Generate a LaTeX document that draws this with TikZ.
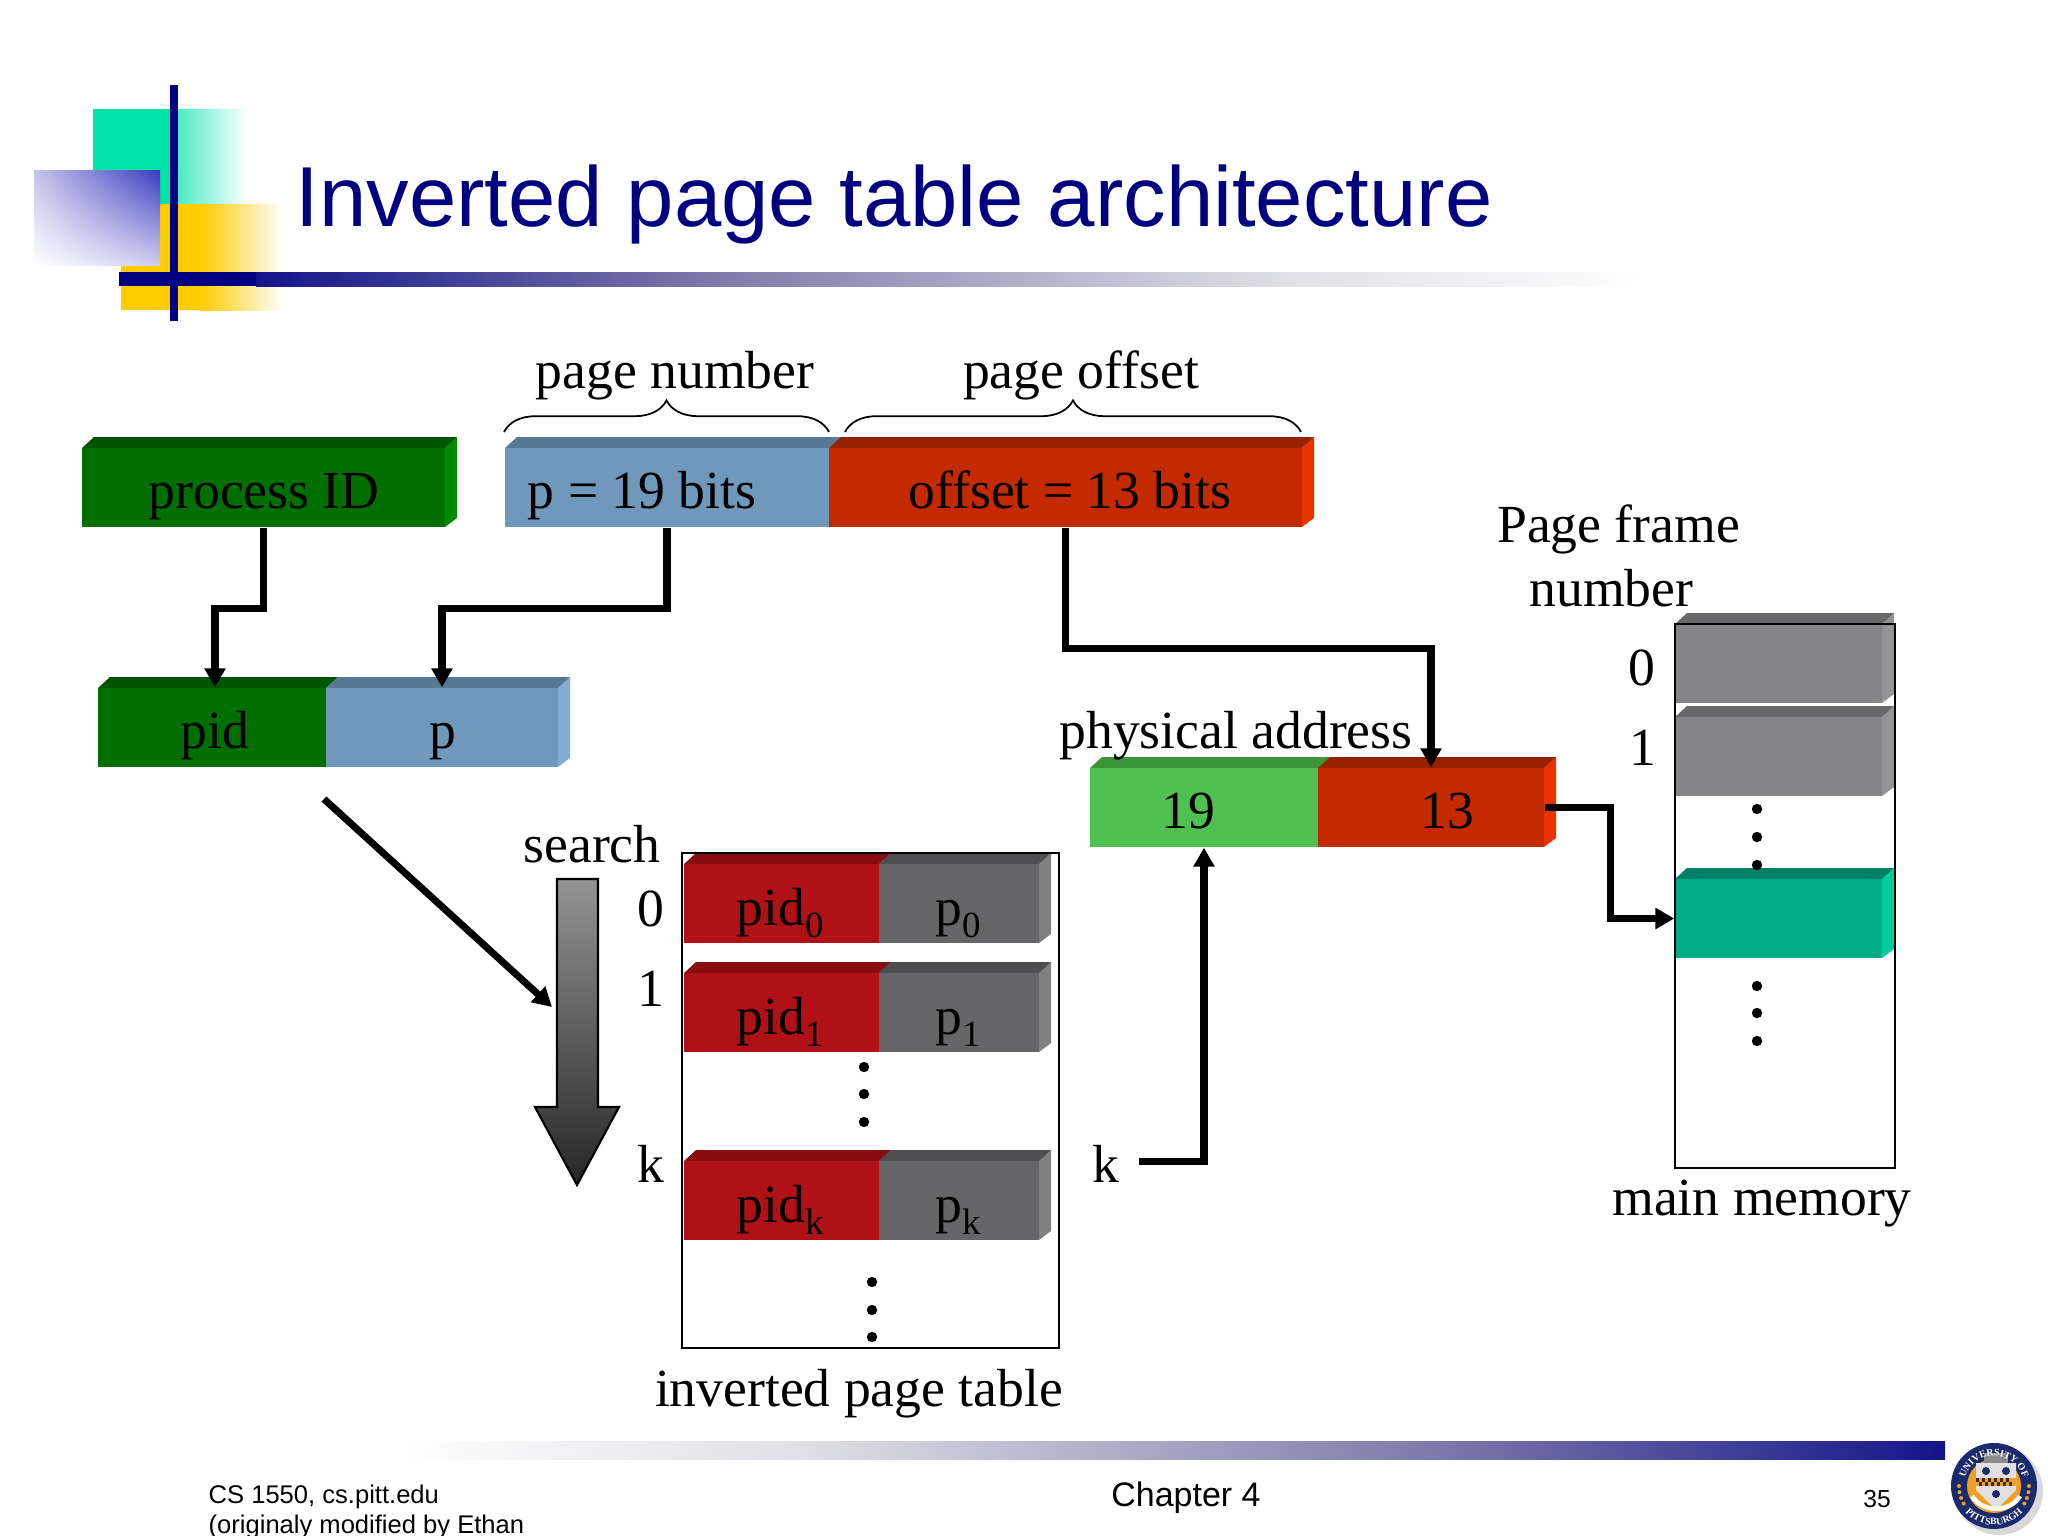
\documentclass[tikz,border=0pt]{standalone}
\usepackage{fontspec}
\setmainfont{Liberation Serif}
\newfontfamily\tsSansFont{Liberation Sans}
\usepackage{xcolor}
\usepackage{tikz}
\usetikzlibrary{arrows.meta,calc,shadings}
\usetikzlibrary{decorations.pathreplacing,decorations.text}

\definecolor{tsNavy}{HTML}{000080}
\definecolor{tsBar}{HTML}{14148A}
\definecolor{tsGreen}{HTML}{006F00}
\definecolor{tsGreenTop}{HTML}{005500}
\definecolor{tsGreenSide}{HTML}{008800}
\definecolor{tsBlue}{HTML}{7098BA}
\definecolor{tsBlueTop}{HTML}{587993}
\definecolor{tsBlueSide}{HTML}{80ACD6}
\definecolor{tsRed}{HTML}{C42A00}
\definecolor{tsRedTop}{HTML}{982200}
\definecolor{tsRedSide}{HTML}{E83300}
\definecolor{tsLime}{HTML}{50C050}
\definecolor{tsLimeTop}{HTML}{3C9638}
\definecolor{tsCrimson}{HTML}{B01116}
\definecolor{tsCrimsonTop}{HTML}{880D10}
\definecolor{tsSlate}{HTML}{666668}
\definecolor{tsSlateTop}{HTML}{4E4E50}
\definecolor{tsSlateSide}{HTML}{808082}
\definecolor{tsGrey}{HTML}{858587}
\definecolor{tsGreyTop}{HTML}{68686A}
\definecolor{tsGreySide}{HTML}{949496}
\definecolor{tsTeal}{HTML}{00AC84}
\definecolor{tsTealTop}{HTML}{008065}
\definecolor{tsTealSide}{HTML}{00CC9C}
\definecolor{tsMint}{HTML}{00E3A8}
\definecolor{tsYellow}{HTML}{FFCC00}
\definecolor{tsGold}{HTML}{F0A020}
\definecolor{tsSealBlue}{HTML}{1A2A6C}
\definecolor{tsViolet}{HTML}{3A3AC0}
\definecolor{tsFadeA}{HTML}{7A78A8}
\definecolor{tsFadeB}{HTML}{B0AEC8}
\definecolor{tsFadeC}{HTML}{E0E0E6}

\pgfdeclarehorizontalshading{tsFade}{100bp}{color(0bp)=(tsBar); color(25bp)=(tsBar); color(41bp)=(tsFadeA); color(52bp)=(tsFadeB); color(62bp)=(tsFadeC); color(75bp)=(white); color(100bp)=(white)}

\tikzstyle{tsLabel} = [
    text=black,
    font=\fontsize{15.25}{18.2}\selectfont,
    inner sep=0pt,
    anchor=base
]
\tikzstyle{tsFace} = [
    rectangle,
    inner sep=0pt,
    draw=none
]
\tikzstyle{tsFoot} = [
    text=black,
    inner sep=0pt,
    anchor=base west
]
\tikzstyle{tsArrow} = [
    line width=2pt,
    -{Triangle[length=5.4pt,width=5.8pt]}
]
\tikzstyle{tsBrace} = [
    line width=0.5pt,
    decorate,
    decoration={brace,amplitude=9pt,aspect=0.5}
]
\tikzstyle{tsOutline} = [
    draw=black,
    line width=0.6pt
]

% name, left, top, right of the front face, then the three colours
\newcommand{\tsBlock}[7]{%
    \fill[#7] (#4,{#3+11}) -- ({#4+12},#3) -- ({#4+12},{#3+81}) -- (#4,{#3+90}) -- cycle;
    \fill[#6] (#2,{#3+11}) -- ({#2+12},#3) -- ({#4+12},#3) -- (#4,{#3+11}) -- cycle;
    \node[tsFace, fill=#5, minimum width={(#4-#2)*0.01cm}, minimum height=0.79cm] (#1) at ({(#2+#4)/2},{#3+50.5}) {};
}
\newcommand{\tsSub}[1]{\raisebox{-0.24em}{\fontsize{10.5}{10.5}\selectfont #1}}

\begin{document}
\begin{tikzpicture}[x=0.01cm,y=-0.01cm]

    \useasboundingbox (0,0) rectangle (2048,1536);

    % logo squares
    \fill[tsMint] (93,109) rectangle (178,204);
    \shade[left color=tsMint!70, right color=white] (178,109) rectangle (247,204);
    \fill[tsYellow] (121,204) rectangle (200,310);
    \shade[left color=tsYellow, right color=white] (200,204) rectangle (283,310);
    \shade[upper right=tsViolet, upper left=tsViolet!30, lower right=tsViolet!25, lower left=white] (34,170) rectangle (160,265);
    \fill[tsNavy] (170,85) rectangle (178,321);
    \fill[tsNavy] (119,272) rectangle (256,286);
    \shade[shading=tsFade] (256,272) rectangle (1650,286);

    \node[inner sep=0pt, anchor=base west, text=tsNavy, font=\tsSansFont\fontsize{24.2}{28}\selectfont] (title) at (295,226) {Inverted page table architecture};

    % footer
    \shade[shading=tsFade, shading angle=180] (392,1441) rectangle (1945,1459);
    \node[tsFoot, font=\tsSansFont\fontsize{7.27}{8.5}\selectfont] (footA) at (208,1503) {CS 1550, cs.pitt.edu};
    \node[tsFoot, font=\tsSansFont\fontsize{7.27}{8.5}\selectfont] (footB) at (208,1533) {(originaly modified by Ethan};
    \node[inner sep=0pt, anchor=base, font=\tsSansFont\fontsize{9.66}{11}\selectfont] (chapter) at (1186,1506) {Chapter 4};
    \node[inner sep=0pt, anchor=base, font=\tsSansFont\fontsize{7}{8}\selectfont] (slideNo) at (1877,1507) {35};

    % seal
    \coordinate (seal) at (1994,1486);
    \fill[black!15] (1999,1491) circle[radius=44];
    \fill[tsSealBlue] (seal) circle[radius=43];
    \fill[tsGold] (seal) circle[radius=27];
    \foreach \a in {180,190,200,210,-30,-20,-10,0}
        \fill[tsGold] ($(seal)+(\a:0.35cm)$) circle[radius=2];
    \fill[black!12] (1976,1463) -- (2016,1463) -- (2016,1490) -- (1996,1510) -- (1976,1490) -- cycle;
    \fill[black!45] (1984,1453) rectangle (2008,1463);
    \fill[tsGold] (1976,1478) rectangle (2016,1486);
    \foreach \x in {1976,1982,...,2010} {
        \fill[black!75!tsGold] (\x,1478) rectangle ({\x+3},1482);
        \fill[black!75!tsGold] ({\x+3},1482) rectangle ({\x+6},1486);
    }
    \foreach \x/\y in {1986/1471,2006/1471,1996/1494}
        \fill[tsSealBlue] (\x,\y) circle[radius=4];
    \draw[white, line width=1.3pt] (1972,1496) .. controls (1982,1513) and (2010,1513) .. (2020,1496);
    \path[decorate, decoration={text along path, text align=center, text={|\color{white}\fontsize{2.8}{2.8}\bfseries\selectfont|UNIVERSITY OF}}]
        ($(seal)+(165:0.3cm)$) arc[start angle=165, end angle=15, radius=0.3cm];
    \path[decorate, decoration={text along path, text align=center, text={|\color{white}\fontsize{2.8}{2.8}\bfseries\selectfont|PITTSBURGH}}]
        ($(seal)+(215:0.39cm)$) arc[start angle=215, end angle=325, radius=0.39cm];

    % virtual address
    \tsBlock{nProcess}{82}{437}{445}{tsGreen}{tsGreenTop}{tsGreenSide}
    \tsBlock{nPageBits}{505}{437}{829}{tsBlue}{tsBlueTop}{tsBlueSide}
    \tsBlock{nOffsetBits}{829}{437}{1302}{tsRed}{tsRedTop}{tsRedSide}
    \tsBlock{nPid}{98}{677}{326}{tsGreen}{tsGreenTop}{tsGreenSide}
    \tsBlock{nP}{326}{677}{558}{tsBlue}{tsBlueTop}{tsBlueSide}
    \tsBlock{nNineteen}{1090}{757}{1318}{tsLime}{tsLimeTop}{tsLime}
    \tsBlock{nThirteen}{1318}{757}{1544}{tsRed}{tsRedTop}{tsRedSide}

    % inverted page table
    \foreach \i/\y in {0/853,1/962,k/1150} {
        \tsBlock{nPidRow\i}{684}{\y}{879}{tsCrimson}{tsCrimsonTop}{tsCrimson}
        \tsBlock{nPRow\i}{879}{\y}{1039}{tsSlate}{tsSlateTop}{tsSlateSide}
        \node[tsLabel] (lPidRow\i) at (780,{\y+72}) {pid\tsSub{\i}};
        \node[tsLabel] (lPRow\i) at (958,{\y+72}) {p\tsSub{\i}};
    }
    \node[tsOutline, tsFace, draw=black, minimum width=3.77cm, minimum height=4.95cm] (nTable) at (870.5,1100.5) {};

    % main memory
    \tsBlock{nFrameA}{1675}{613}{1882}{tsGrey}{tsGreyTop}{tsGreySide}
    \tsBlock{nFrameB}{1675}{706}{1882}{tsGrey}{tsGreyTop}{tsGreySide}
    \tsBlock{nTeal}{1675}{868}{1882}{tsTeal}{tsTealTop}{tsTealSide}
    \node[tsOutline, tsFace, draw=black, minimum width=2.2cm, minimum height=5.44cm] (nMemory) at (1785,896) {};

    \foreach \x/\y in {864/1067,864/1094,864/1122,872/1282,872/1310,872/1337,1757/809,1757/837,1757/865,1757/986,1757/1013,1757/1041}
        \fill[black] (\x,\y) circle[radius=5.2];

    % braces
    \coordinate (braceA) at (504,432);
    \coordinate (braceB) at (829,432);
    \coordinate (braceC) at (845,432);
    \coordinate (braceD) at (1301,432);
    \draw[tsBrace] (braceA) -- (braceB);
    \draw[tsBrace] (braceC) -- (braceD);

    % search arrow
    \shade[top color=black!42, bottom color=black!85, draw=black, line width=0.6pt]
        (557,879) -- (598,879) -- (598,1107) -- (619,1107) -- (577,1185) -- (535,1107) -- (557,1107) -- cycle;

    % labels
    \node[tsLabel] (lPageNumber) at (675,388) {page number};
    \node[tsLabel] (lPageOffset) at (1081,388) {page offset};
    \node[tsLabel] (lProcess) at (264,508) {process ID};
    \node[tsLabel] (lPageBits) at (642,508) {p = 19 bits};
    \node[tsLabel] (lOffsetBits) at (1070,508) {offset = 13 bits};
    \node[tsLabel] (lPid) at (215,748) {pid};
    \node[tsLabel] (lP) at (443,748) {p};
    \node[tsLabel] (lPhysical) at (1236,748) {physical address};
    \node[tsLabel] (lNineteen) at (1188,828) {19};
    \node[tsLabel] (lThirteen) at (1447,828) {13};
    \node[tsLabel] (lSearch) at (592,862) {search};
    \node[tsLabel] (lIdxA) at (651,926) {0};
    \node[tsLabel] (lIdxB) at (651,1006) {1};
    \node[tsLabel] (lIdxK) at (651,1182) {k};
    \node[tsLabel] (lK) at (1106,1182) {k};
    \node[tsLabel] (lTable) at (859,1406) {inverted page table};
    \node[tsLabel, anchor=center, align=center] (lFrame) at (1615,556) {\hspace*{2pt}Page frame\\number\hspace*{2pt}};
    \node[tsLabel] (lFrameA) at (1642,685) {0};
    \node[tsLabel] (lFrameB) at (1643,765) {1};
    \node[tsLabel] (lMemory) at (1762,1215) {main memory};

    % connectors
    \coordinate (kStart) at (1139,1161);
    \coordinate (diagStart) at (324,799);
    \coordinate (diagEnd) at (552,1007);
    \coordinate (pidTip) at ($(nPid.north)+(3,0)$);
    \draw[tsArrow] (nProcess.south) -- ++(0,81) -| (pidTip);
    \draw[tsArrow] (nPageBits.south) -- ++(0,81) -| (nP.north);
    \draw[tsArrow] (nOffsetBits.south) -- ++(0,121) -| (nThirteen.north);
    \draw[tsArrow] (nThirteen.east) -- ++(66,0) |- (nTeal.west);
    \draw[tsArrow] (kStart) -| (nNineteen.south);
    \draw[tsArrow] (diagStart) -- (diagEnd);

\end{tikzpicture}
\end{document}
